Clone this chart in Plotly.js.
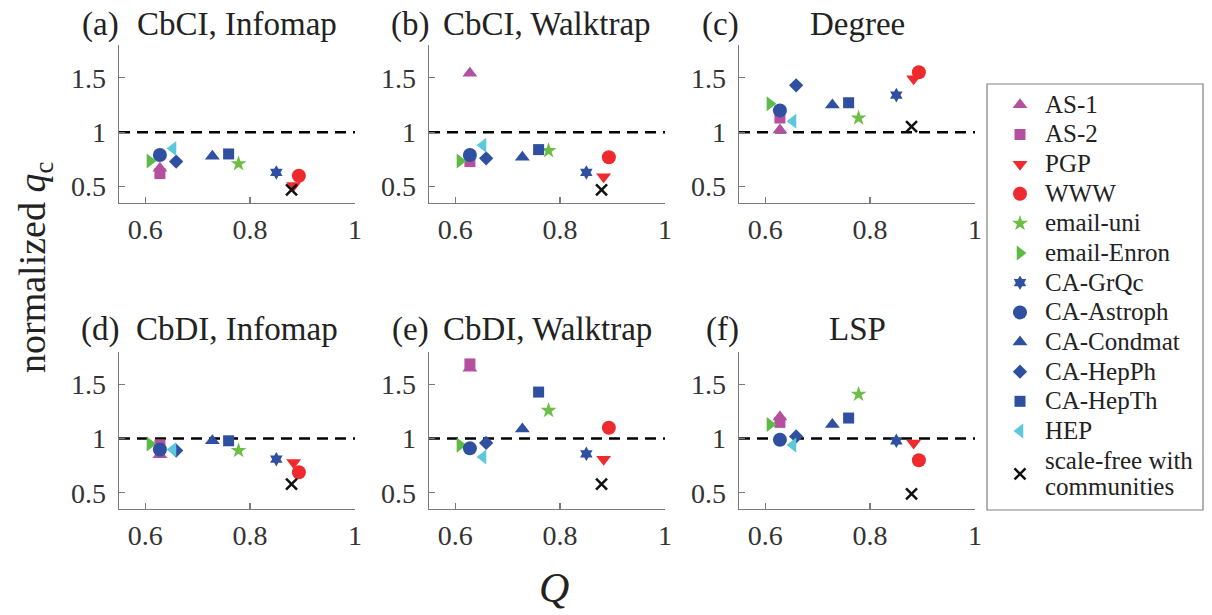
<!DOCTYPE html>
<html>
<head>
<meta charset="utf-8">
<script src="https://cdn.plot.ly/plotly-3.0.1.min.js"></script>
<style>html,body{margin:0;padding:0;background:#fff;}#chart{width:1212px;height:615px;}</style>
</head>
<body>
<div id="chart"></div>
<script>
// ---- data ----
const networks = ["AS-1","AS-2","PGP","WWW","email-uni","email-Enron","CA-GrQc","CA-Astroph","CA-Condmat","CA-HepPh","CA-HepTh","HEP","scale-free with<br>communities"];
const modularityQ = [0.628,0.628,0.883,0.893,0.778,0.609,0.850,0.628,0.728,0.659,0.759,0.653,0.879];
const qcCbCIInfomap   = [0.67,0.62,0.51,0.60,0.71,0.735,0.63,0.79,0.78,0.73,0.80,0.85,0.47];
const qcCbCIWalktrap  = [1.54,0.73,0.59,0.77,0.83,0.735,0.63,0.79,0.77,0.76,0.84,0.88,0.47];
const qcDegree        = [1.02,1.13,1.49,1.55,1.13,1.26,1.34,1.20,1.25,1.43,1.27,1.10,1.05];
const qcCbDIInfomap   = [0.85,0.94,0.78,0.69,0.89,0.95,0.81,0.90,0.98,0.89,0.98,0.90,0.58];
const qcCbDIWalktrap  = [1.65,1.69,0.81,1.10,1.26,0.94,0.86,0.91,1.09,0.96,1.43,0.83,0.58];
const qcLSP           = [1.20,1.15,0.96,0.80,1.41,1.13,0.98,0.99,1.13,1.02,1.19,0.94,0.49];
const panelTitles = ["CbCI, Infomap","CbCI, Walktrap","Degree","CbDI, Infomap","CbDI, Walktrap","LSP"];
const panelLetters = ["(a)","(b)","(c)","(d)","(e)","(f)"];
const xTicks = [0.6,0.8,1];
const xTickText = ["0.6","0.8","1"];
const yTicks = [0.5,1,1.5];
const yTickText = ["0.5","1","1.5"];

// ---- styles ----
const MAG = "#B4509F", RED = "#EE2A2E", GRN1 = "#6CBE45", GRN2 = "#5DBA46", BLU = "#2F4FA0", CYN = "#5BC8DC";
const styles = [
  {symbol:"triangle-up", color:MAG, size:13},
  {symbol:"square", color:MAG, size:11},
  {symbol:"triangle-down", color:RED, size:13},
  {symbol:"circle", color:RED, size:14},
  {symbol:"star", color:GRN1, size:12},
  {symbol:"triangle-right", color:GRN2, size:13},
  {symbol:"hexagram", color:BLU, size:11},
  {symbol:"circle", color:BLU, size:14},
  {symbol:"triangle-up", color:BLU, size:13},
  {symbol:"diamond", color:BLU, size:11},
  {symbol:"square", color:BLU, size:11},
  {symbol:"triangle-left", color:CYN, size:13},
  {symbol:"x-thin", color:"#111", size:11}
];

const panels = [qcCbCIInfomap, qcCbCIWalktrap, qcDegree, qcCbDIInfomap, qcCbDIWalktrap, qcLSP];
const W = 1212, H = 615;
const xDom = [[119,355],[429,665],[739,975]];
const yDom = [[45,203],[352,509]];
const FONT = "Liberation Serif, Times New Roman, serif";
const LEGEND_TEXT_PX = 25;
const SPAN = '<span style="font-size:' + LEGEND_TEXT_PX + 'px">';

const traces = [];
panels.forEach((vals, p) => {
  const ax = p === 0 ? "" : String(p+1);
  networks.forEach((name, i) => {
    const st = styles[i];
    const marker = {symbol: st.symbol, color: st.color, size: st.size};
    if (st.symbol === "x-thin") marker.line = {color: st.color, width: 2.5};
    else marker.line = {width: 0};
    traces.push({
      type: "scatter", mode: "markers",
      x: [modularityQ[i]], y: [vals[i]],
      name: name.split("<br>").map(s => SPAN + "\u2009" + s + "</span>").join("<br>"),
      legendgroup: "g" + i, showlegend: p === 0,
      xaxis: "x" + ax, yaxis: "y" + ax,
      marker: marker, hoverinfo: "skip"
    });
  });
});

const layout = {
  width: W, height: H,
  margin: {l:0, r:0, t:0, b:0},
  paper_bgcolor: "#fff", plot_bgcolor: "#fff",
  font: {family: FONT, color: "#222"},
  showlegend: true,
  legend: {
    x: 1000/W, y: 1-85/H, xanchor: "left", yanchor: "top",
    borderwidth: 0, bgcolor: "rgba(0,0,0,0)",
    font: {family: FONT, size: 20.5, color: "#222"},
    tracegroupgap: 0, itemsizing: "trace"
  },
  shapes: [{
    type: "rect", xref: "paper", yref: "paper",
    x0: 987/W, x1: 1203/W, y0: 1 - 510/H, y1: 1 - 84/H,
    line: {color: "#808080", width: 1.2}, fillcolor: "rgba(0,0,0,0)", layer: "above"
  }],
  annotations: []
};

for (let p = 0; p < 6; p++) {
  const ax = p === 0 ? "" : String(p+1);
  const col = p % 3, row = Math.floor(p/3);
  const xd = [xDom[col][0]/W, xDom[col][1]/W];
  const yd = [1 - yDom[row][1]/H, 1 - yDom[row][0]/H];
  const common = {
    showline: true, linecolor: "#7a7a7a", linewidth: 1.3,
    ticks: "inside", ticklen: 6, tickcolor: "#7a7a7a", tickwidth: 1.3,
    showgrid: false, zeroline: false, mirror: false,
    tickfont: {family: FONT, size: 28, color: "#333"},
    fixedrange: true
  };
  layout["xaxis" + ax] = Object.assign({}, common, {
    domain: xd, range: [0.55, 1], anchor: "y" + ax,
    tickmode: "array", tickvals: xTicks, ticktext: xTickText, ticklabelstandoff: 1
  });
  layout["yaxis" + ax] = Object.assign({}, common, {
    domain: yd, range: [0.35, 1.8], anchor: "x" + ax,
    tickmode: "array", tickvals: yTicks, ticktext: yTickText, ticklabelstandoff: 6
  });
  layout.shapes.push({
    type: "line", xref: "x" + ax + " domain", yref: "y" + ax,
    x0: 0, x1: 1, y0: 1, y1: 1,
    line: {color: "#000", width: 2.5, dash: "11px,7px"}, layer: "below"
  });
  const titleY = row === 0 ? 1 - 24/H : 1 - 329/H;
  layout.annotations.push({
    xref: "x" + ax + " domain", yref: "paper", x: 0.5, y: titleY,
    xanchor: "center", yanchor: "middle", showarrow: false,
    text: panelTitles[p], font: {family: FONT, size: 33, color: "#222"}
  });
  layout.annotations.push({
    xref: "x" + ax + " domain", yref: "paper", x: 0, y: titleY,
    xanchor: "right", yanchor: "middle", showarrow: false, xshift: 2,
    text: panelLetters[p], font: {family: FONT, size: 33, color: "#222"}
  });
}
layout.annotations.push({
  xref: "paper", yref: "paper", x: 35/W, y: 1 - 268/H,
  xanchor: "center", yanchor: "middle", textangle: -90, showarrow: false,
  text: "normalized <i>q</i><sub>c</sub>", font: {family: FONT, size: 38, color: "#222"}
});
layout.annotations.push({
  xref: "paper", yref: "paper", x: 554/W, y: 1 - 588/H,
  xanchor: "center", yanchor: "middle", showarrow: false,
  text: "<i>Q</i>", font: {family: FONT, size: 42, color: "#222"}
});

Plotly.newPlot("chart", traces, layout, {displayModeBar: false, staticPlot: true});
</script>
</body>
</html>
